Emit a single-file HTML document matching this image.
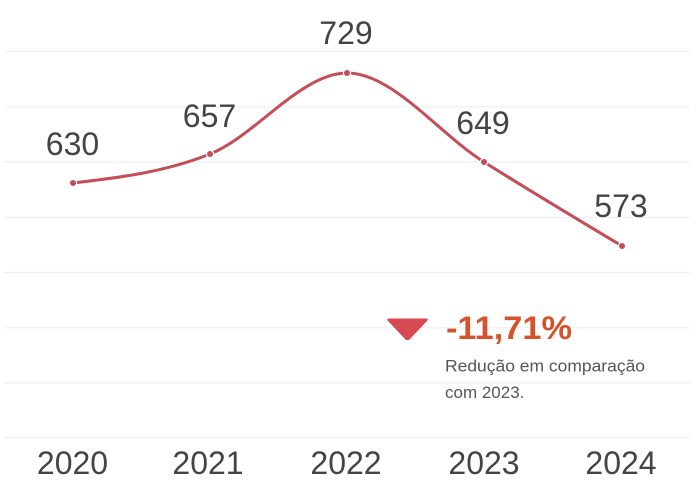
<!DOCTYPE html>
<html><head><meta charset="utf-8"><style>
html,body{margin:0;padding:0;background:#fff;}
svg{display:block;}
text{font-family:"Liberation Sans",sans-serif;}
</style></head><body>
<svg width="700" height="504" viewBox="0 0 700 504" xmlns="http://www.w3.org/2000/svg">
<rect width="700" height="504" fill="#fff"/>
<g stroke="#efefef" stroke-width="1.2">
<line x1="4" y1="51.5" x2="690" y2="51.5"/>
<line x1="4" y1="106.8" x2="690" y2="106.8"/>
<line x1="4" y1="162" x2="690" y2="162"/>
<line x1="4" y1="217.3" x2="690" y2="217.3"/>
<line x1="4" y1="272.5" x2="690" y2="272.5"/>
<line x1="4" y1="327.8" x2="690" y2="327.8"/>
<line x1="4" y1="383" x2="690" y2="383"/>
<line x1="4" y1="437.5" x2="690" y2="437.5"/>
</g>
<path d="M73,183 C118.67,177.67 164.33,172.33 210,154 C255.67,135.67 301.33,73 347,73 C392.67,73 438.33,133.28 484,162 C530,190.93 576,218.47 622,246" fill="none" stroke="#c44d58" stroke-width="3" stroke-linecap="round"/>
<g>
<circle cx="73" cy="183" r="4.2" fill="#fff"/><circle cx="73" cy="183" r="3" fill="#c44d58"/>
<circle cx="210" cy="154" r="4.2" fill="#fff"/><circle cx="210" cy="154" r="3" fill="#c44d58"/>
<circle cx="347" cy="73" r="4.2" fill="#fff"/><circle cx="347" cy="73" r="3" fill="#c44d58"/>
<circle cx="484" cy="162" r="4.2" fill="#fff"/><circle cx="484" cy="162" r="3" fill="#c44d58"/>
<circle cx="622" cy="246" r="4.2" fill="#fff"/><circle cx="622" cy="246" r="3" fill="#c44d58"/>
</g>
<g fill="#444" font-size="32" text-anchor="middle">
<text x="72.5" y="155">630</text>
<text x="209.5" y="127">657</text>
<text x="346" y="44">729</text>
<text x="483" y="134">649</text>
<text x="621" y="217">573</text>
</g>
<g fill="#444" font-size="32" text-anchor="middle">
<text x="72.5" y="474">2020</text>
<text x="208" y="474">2021</text>
<text x="346" y="474">2022</text>
<text x="484" y="474">2023</text>
<text x="621" y="474">2024</text>
</g>
<path d="M389,318.5 L426,318.5 Q429,318.5 427,321 L410,339 Q407.5,341.5 405,339 L388,321 Q386,318.5 389,318.5 Z" fill="#d84a52"/>
<text x="446" y="339" font-size="32" font-weight="bold" fill="#d4532b" textLength="126" lengthAdjust="spacingAndGlyphs">-11,71%</text>
<text x="445" y="371.5" font-size="17" fill="#555" textLength="200" lengthAdjust="spacingAndGlyphs">Redução em comparação</text>
<text x="445" y="398" font-size="17" fill="#555">com 2023.</text>
</svg>
</body></html>
